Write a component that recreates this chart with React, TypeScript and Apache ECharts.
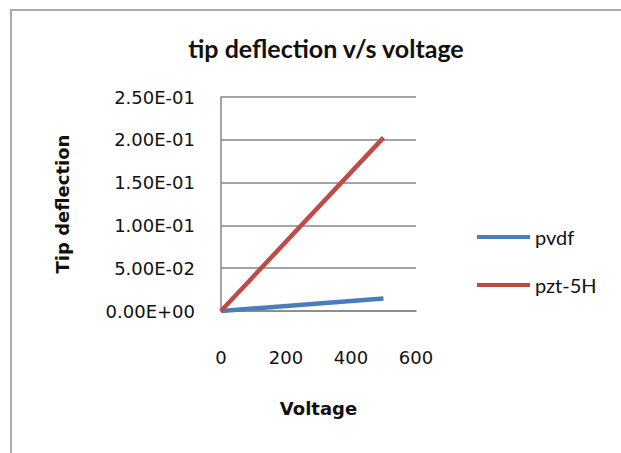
import React, { useEffect, useRef } from "react";
import * as echarts from "echarts";

const voltage = [0, 500];
const pvdf = [0, 0.0145];
const pzt5H = [0, 0.2025];
const seriesNames = ["pvdf", "pzt-5H"];
const xTicks = [0, 200, 400, 600];

function sci(v: number): string {
  if (v === 0) return "0.00E+00";
  const exp = Math.floor(Math.log10(Math.abs(v)) + 1e-9);
  const mant = v / Math.pow(10, exp);
  const sign = exp < 0 ? "-" : "+";
  const e = Math.abs(exp).toString().padStart(2, "0");
  return `${mant.toFixed(2)}E${sign}${e}`;
}

export default function App() {
  const ref = useRef<HTMLDivElement>(null);

  useEffect(() => {
    if (!ref.current) return;
    const chart = echarts.init(ref.current, null, { renderer: "svg" });
    const axisFont = { fontFamily: "DejaVu Sans", fontSize: 18, color: "#111" };
    const nameFont = { fontFamily: "DejaVu Sans", fontSize: 18, fontWeight: "bold", color: "#111" };
    chart.setOption({
      animation: false,
      backgroundColor: "#fff",
      title: {
        text: "tip deflection v/s voltage",
        left: 321,
        top: 30,
        textAlign: "center",
        textStyle: { fontFamily: "Lato", fontSize: 25, fontWeight: "bold", color: "#111" },
      },
      graphic: [
        {
          type: "rect",
          shape: { x: 11, y: 10, width: 700, height: 600 },
          style: { fill: "none", stroke: "#a9a9a9", lineWidth: 2 },
          silent: true,
        },
      ],
      legend: {
        orient: "vertical",
        left: 472,
        top: 222,
        itemWidth: 53,
        itemHeight: 14,
        itemGap: 28,
        data: seriesNames.map((n) => ({ name: n, icon: "path://M0,6 L53,6 L53,10 L0,10 Z" })),
        textStyle: { fontFamily: "Lato", fontSize: 20, color: "#111" },
      },
      grid: { left: 221, right: 205, top: 97, bottom: 142 },
      xAxis: {
        type: "value",
        min: xTicks[0],
        max: xTicks[xTicks.length - 1],
        interval: 200,
        name: "Voltage",
        nameLocation: "middle",
        nameGap: 88,
        nameTextStyle: nameFont,
        axisLine: { show: true, lineStyle: { color: "#868686", width: 1.5 } },
        axisTick: { show: false },
        splitLine: { show: false },
        axisLabel: { ...axisFont, margin: 37 },
      },
      yAxis: {
        type: "value",
        min: 0,
        max: 0.25,
        interval: 0.05,
        name: "Tip deflection",
        nameLocation: "middle",
        nameGap: 150,
        nameRotate: 90,
        nameTextStyle: nameFont,
        axisLine: { show: true, lineStyle: { color: "#868686", width: 1.5 } },
        axisTick: { show: false },
        splitLine: { show: true, lineStyle: { color: "#868686", width: 1.5 } },
        axisLabel: { ...axisFont, margin: 26, formatter: (v: number) => sci(v) },
      },
      series: [
        {
          name: seriesNames[0],
          type: "line",
          data: voltage.map((x, i) => [x, pvdf[i]]),
          showSymbol: false,
          lineStyle: { color: "#4a7ebb", width: 4.5 },
          itemStyle: { color: "#4a7ebb" },
        },
        {
          name: seriesNames[1],
          type: "line",
          data: voltage.map((x, i) => [x, pzt5H[i]]),
          showSymbol: false,
          lineStyle: { color: "#be4b48", width: 4.5 },
          itemStyle: { color: "#be4b48" },
        },
      ],
    });
    return () => chart.dispose();
  }, []);

  return (
    <div
      ref={ref}
      style={{ position: "absolute", left: 0, top: 0, width: 621, height: 453 }}
    />
  );
}
